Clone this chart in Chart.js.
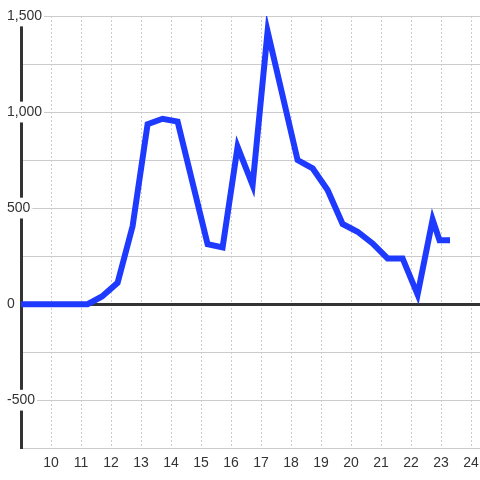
<!DOCTYPE html>
<html>
<head>
<meta charset="utf-8">
<script src="https://cdn.jsdelivr.net/npm/chart.js@4"></script>
<style>
  html, body { margin: 0; padding: 0; background: #fff; }
  #wrap { width: 480px; height: 480px; }
</style>
</head>
<body>
<div id="wrap"><canvas id="chart"></canvas></div>
<script>
// --- DATA ---
const xValues = [8.7, 11.22, 11.7, 12.22, 12.72, 13.22, 13.72, 14.22, 15.22, 15.72, 16.22, 16.72,
                 17.22, 18.22, 18.72, 19.22, 19.72, 20.22, 20.72, 21.22, 21.72, 22.22, 22.72, 22.95, 23.3];
const yValues = [0, 0, 40, 111, 406, 937, 965, 950, 312, 295, 819, 620,
                 1420, 750, 707, 594, 417, 377, 316, 238, 238, 50, 440, 333, 333];
const xTickLabels = [10, 11, 12, 13, 14, 15, 16, 17, 18, 19, 20, 21, 22, 23, 24];
const yTickLabels = [-500, 0, 500, 1000, 1500];

const points = xValues.map((x, i) => ({ x: x, y: yValues[i] }));

const ctx = document.getElementById('chart').getContext('2d');
new Chart(ctx, {
    type: 'line',
    data: {
        datasets: [{
            data: points,
            borderColor: '#1f3aff',
            borderWidth: 6,
            pointRadius: 0,
            tension: 0,
            fill: false
        }]
    },
    options: {
        responsive: true,
        maintainAspectRatio: false,
        animation: false,
        layout: { padding: { left: 7, right: 0, top: 16, bottom: 1 } },
        plugins: { legend: { display: false }, tooltip: { enabled: false } },
        scales: {
            x: {
                type: 'linear',
                min: 9,
                max: 24.3,
                afterFit: scale => { scale.paddingLeft = 0; scale.paddingRight = 0; },
                grid: {
                    drawTicks: false,
                    color: c => (c.tick && c.tick.value === 9) ? 'rgba(0,0,0,0)' : '#cccccc',
                    lineWidth: 1
                },
                border: { display: false, dash: [2, 2] },
                ticks: {
                    stepSize: 1,
                    includeBounds: false,
                    padding: 7,
                    color: '#333',
                    font: { family: 'Liberation Sans', size: 14 },
                    maxRotation: 0,
                    autoSkip: false,
                    callback: v => xTickLabels.includes(v) ? String(v) : ''
                }
            },
            y: {
                min: -750,
                max: 1500,
                afterFit: scale => { scale.width = 14; },
                grid: {
                    drawTicks: false,
                    color: c => (c.tick && c.tick.value === 0) ? '#333333' : '#cccccc',
                    lineWidth: c => (c.tick && c.tick.value === 0) ? 3 : 1
                },
                border: { display: true, color: '#333333', width: 3 },
                ticks: {
                    stepSize: 250,
                    mirror: true,
                    padding: -14,
                    color: '#333',
                    font: { family: 'Liberation Sans', size: 14 },
                    showLabelBackdrop: true,
                    backdropColor: '#ffffff',
                    backdropPadding: 2,
                    callback: v => yTickLabels.includes(v) ? v.toLocaleString('en-US') : ''
                }
            }
        }
    }
});
</script>
</body>
</html>
